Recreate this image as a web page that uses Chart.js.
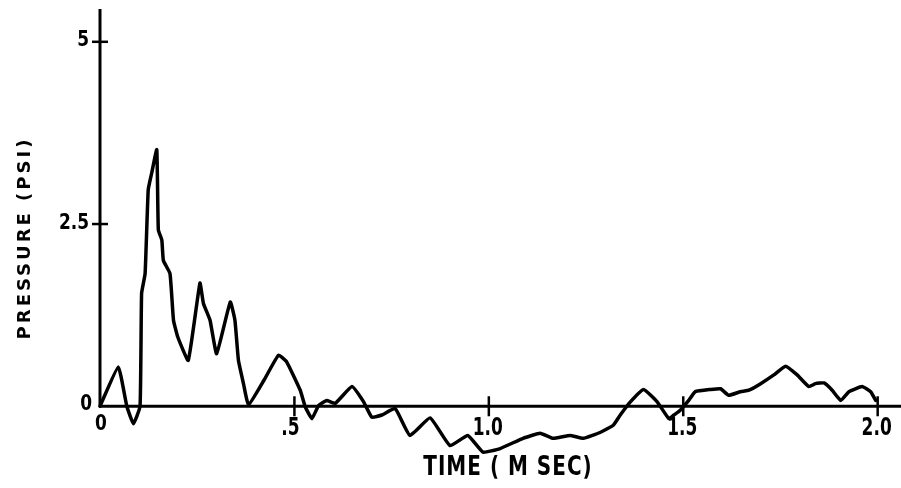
<!DOCTYPE html>
<html>
<head>
<meta charset="utf-8">
<script src="https://cdn.jsdelivr.net/npm/chart.js@4/dist/chart.umd.min.js"></script>
<style>
  html, body { margin: 0; padding: 0; background: #fff; }
  #wrap { width: 901px; height: 488px; position: relative; }
</style>
</head>
<body>
<div id="wrap"><canvas id="c"></canvas></div>
<script>
// ---- data ----
const timeMs = [
  0.000, 0.047, 0.069, 0.086, 0.103, 0.107, 0.116, 0.124, 0.133, 0.146,
  0.150, 0.159, 0.163, 0.180, 0.189, 0.200, 0.227, 0.257, 0.266, 0.283,
  0.300, 0.335, 0.347, 0.356, 0.369, 0.382, 0.422, 0.459, 0.480, 0.515,
  0.528, 0.545, 0.562, 0.583, 0.605, 0.648, 0.678, 0.699, 0.725, 0.759,
  0.797, 0.849, 0.900, 0.946, 0.985, 1.029, 1.088, 1.132, 1.165, 1.209,
  1.243, 1.286, 1.320, 1.338, 1.364, 1.398, 1.433, 1.463,
  1.476, 1.493, 1.514, 1.531, 1.570, 1.596, 1.617, 1.647, 1.669, 1.699,
  1.733, 1.763, 1.793, 1.823, 1.840, 1.862, 1.883, 1.905, 1.926, 1.960,
  1.982, 1.995
];
const pressurePsi = [
  0.00, 0.54, 0.00, -0.24, 0.00, 1.55, 1.82, 2.97, 3.20, 3.52,
  2.42, 2.28, 2.00, 1.82, 1.18, 0.95, 0.63, 1.69, 1.41, 1.18,
  0.72, 1.43, 1.18, 0.63, 0.31, 0.02, 0.36, 0.70, 0.61, 0.22,
  -0.01, -0.17, 0.01, 0.08, 0.04, 0.27, 0.06, -0.15, -0.12, -0.03,
  -0.40, -0.16, -0.54, -0.40, -0.63, -0.58, -0.44, -0.37, -0.44, -0.40,
  -0.44, -0.36, -0.26, -0.12, 0.06, 0.23, 0.06, -0.17,
  -0.12, -0.05, 0.08, 0.20, 0.23, 0.24, 0.15, 0.20, 0.22, 0.31,
  0.43, 0.55, 0.43, 0.27, 0.31, 0.32, 0.22, 0.08, 0.20, 0.27,
  0.20, 0.08
];
const xTicks = [0, 0.5, 1.0, 1.5, 2.0];
const xTickLabels = ['0', '.5', '1.0', '1.5', '2.0'];
const yTicks = [0, 2.5, 5];
const yTickLabels = ['0', '2.5', '5'];
const xTitle = 'TIME ( M SEC)';
const yTitle = 'PRESSURE (PSI)';

const points = timeMs.map((t, i) => ({ x: t, y: pressurePsi[i] }));

function stretchedText(ctx, text, x, y, sy) {
  ctx.save();
  ctx.translate(x, y);
  ctx.scale(1, sy);
  ctx.fillText(text, 0, 0);
  ctx.restore();
}

const axesPlugin = {
  id: 'handAxes',
  beforeDatasetsDraw(chart) {
    const ctx = chart.ctx;
    const xs = chart.scales.x, ys = chart.scales.y;
    const x0 = xs.getPixelForValue(0), y0 = ys.getPixelForValue(0);
    ctx.save();
    ctx.strokeStyle = '#000';
    ctx.lineWidth = 3;
    ctx.lineCap = 'butt';
    ctx.beginPath();
    ctx.moveTo(x0, y0 + 1);
    ctx.lineTo(x0, ys.getPixelForValue(ys.max));
    ctx.stroke();
    ctx.beginPath();
    ctx.moveTo(x0 - 1, y0);
    ctx.lineTo(chart.width, y0);
    ctx.stroke();
    ctx.lineWidth = 2.5;
    yTicks.forEach(v => {
      if (v === 0) return;
      const y = ys.getPixelForValue(v);
      ctx.beginPath(); ctx.moveTo(x0 - 8, y); ctx.lineTo(x0 + 8, y); ctx.stroke();
    });
    xTicks.forEach(v => {
      if (v === 0) return;
      const x = xs.getPixelForValue(v);
      ctx.beginPath(); ctx.moveTo(x, y0 - 10); ctx.lineTo(x, y0 + 10); ctx.stroke();
    });
    ctx.restore();
  },
  afterDatasetsDraw(chart) {
    const ctx = chart.ctx;
    const xs = chart.scales.x, ys = chart.scales.y;
    const x0 = xs.getPixelForValue(0), y0 = ys.getPixelForValue(0);
    ctx.save();
    ctx.fillStyle = '#000';
    ctx.font = 'bold 17px "DejaVu Sans"';
    // y tick labels
    ctx.textAlign = 'right';
    ctx.textBaseline = 'middle';
    yTicks.forEach((v, i) => {
      const y = ys.getPixelForValue(v);
      stretchedText(ctx, yTickLabels[i], x0 - (v === 0 ? 8 : 11), y - (v === 0 ? 2 : 1), 1.25);
    });
    // x tick labels
    ctx.textAlign = 'center';
    ctx.textBaseline = 'top';
    xTicks.forEach((v, i) => {
      const x = xs.getPixelForValue(v);
      const dx = v === 0 ? 1 : (v === 0.5 ? -4 : -1);
      stretchedText(ctx, xTickLabels[i], x + dx, y0 + (v === 0 ? 8 : 10), v === 0 ? 1.25 : 1.45);
    });
    // x title
    ctx.font = 'bold 20px "DejaVu Sans"';
    ctx.letterSpacing = '1px';
    ctx.textAlign = 'center';
    ctx.textBaseline = 'middle';
    stretchedText(ctx, xTitle, 508, 468, 1.37);
    // y title
    ctx.font = 'bold 18px "DejaVu Sans"';
    ctx.save();
    ctx.translate(25, 238);
    ctx.rotate(-Math.PI / 2);
    ctx.letterSpacing = '3px';
    ctx.fillText(yTitle, 0, 0);
    ctx.restore();
    ctx.restore();
  }
};

new Chart(document.getElementById('c'), {
  type: 'line',
  data: {
    datasets: [{
      data: points,
      borderColor: '#000',
      borderWidth: 3.5,
      pointRadius: 0,
      tension: 0.12,
      fill: false,
      clip: false,
      borderJoinStyle: 'round',
      borderCapStyle: 'round'
    }]
  },
  options: {
    responsive: true,
    maintainAspectRatio: false,
    animation: false,
    layout: { padding: { left: 100, right: 0, top: 9, bottom: 38 } },
    plugins: { legend: { display: false }, tooltip: { enabled: false } },
    scales: {
      x: { type: 'linear', min: 0, max: 2.06, display: false },
      y: { type: 'linear', min: -0.6, max: 5.45, display: false }
    }
  },
  plugins: [axesPlugin, {
    id: 'whiteBg',
    beforeDraw(chart) {
      const c = chart.ctx; c.save(); c.fillStyle = '#fff';
      c.fillRect(0, 0, chart.width, chart.height); c.restore();
    }
  }]
});
</script>
</body>
</html>
